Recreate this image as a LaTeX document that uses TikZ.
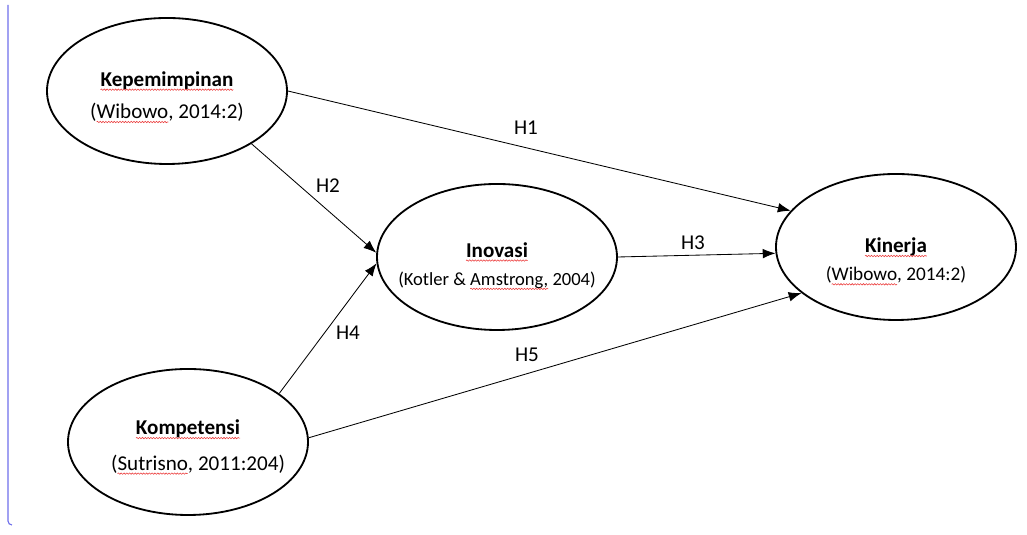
\documentclass[tikz,border=0pt]{standalone}
\usepackage{fontspec}
\setmainfont{Carlito}
\usetikzlibrary{shapes.geometric,arrows.meta,decorations.pathmorphing}

\definecolor{margin}{RGB}{110,110,235}
\definecolor{spell}{RGB}{235,60,60}

\tikzset{
  var/.style={draw,ellipse,line width=1.3pt,minimum width=6cm,minimum height=3.65cm,
    inner xsep=-1cm,inner ysep=0pt,align=center,font=\fontsize{15}{23}\selectfont},
  hyp/.style={font=\fontsize{15}{17}\selectfont},
  hpath/.style={arrows={-{Latex[length=3.2mm,width=2.4mm]}},line width=0.6pt},
  word/.style={shape=rectangle,draw=none,minimum width=0pt,minimum height=0pt,inner sep=0pt,outer sep=0pt}
}
\newcommand{\squig}[1]{\tikz[baseline=(sq.base)]{\node[word] (sq) {#1};
  \draw[spell,overlay,line width=0.4pt,decorate,decoration={snake,amplitude=0.5pt,segment length=2pt}]
    ([yshift=-2.5pt]sq.base west) -- ([yshift=-2.5pt]sq.base east);}}
\newcommand{\smaller}[1]{{\fontsize{13.2}{23}\selectfont #1}}

\begin{document}
\begin{tikzpicture}

    \useasboundingbox (0,0) rectangle (25.675,13.375);
    \draw[margin,line width=0.8pt] (0.2,13.25) -- (0.2,0.35) to[out=-90,in=180] (0.3,0.25);

    \node[var] (kep) at (4.175,11.1) {\rule{0pt}{0.64cm}\textbf{\squig{Kepemimpinan}}\\
      (\squig{Wibowo}, 2014:2)};
    \node[var] (ino) at (12.425,6.95) {\rule{0pt}{0.79cm}\textbf{\squig{Inovasi}}\\[-0.1cm]
      \smaller{(Kotler \& \squig{Amstrong,} 2004)}};
    \node[var] (kin) at (22.4,7.2) {\rule{0pt}{1.05cm}\textbf{\squig{Kinerja}}\\[-0.1cm]
      {\fontsize{13.7}{23}\selectfont(\squig{Wibowo}, 2014:2)}};
    \node[var] (kom) at (4.7,2.325) {\rule{0pt}{0.59cm}\textbf{\squig{Kompetensi}}\\[0.08cm]
      \hspace{0.5cm}(\squig{Sutrisno}, 2011:204)};

    \draw[hpath] (kep.east) -- (kin.161);
    \draw[hpath] (kep.-32) -- (ino.178);
    \draw[hpath] (ino.east) -- (kin.183);
    \draw[hpath] (kom.28) -- (ino.183);
    \draw[hpath] (kom.2) -- (kin.206);

    \node[hyp] (h1) at (13.15,10.175) {H1};
    \node[hyp] (h2) at (8.2,8.725) {H2};
    \node[hyp] (h3) at (17.325,7.3) {H3};
    \node[hyp] (h4) at (8.7,5.05) {H4};
    \node[hyp] (h5) at (13.175,4.5) {H5};

  \end{tikzpicture}
\end{document}
